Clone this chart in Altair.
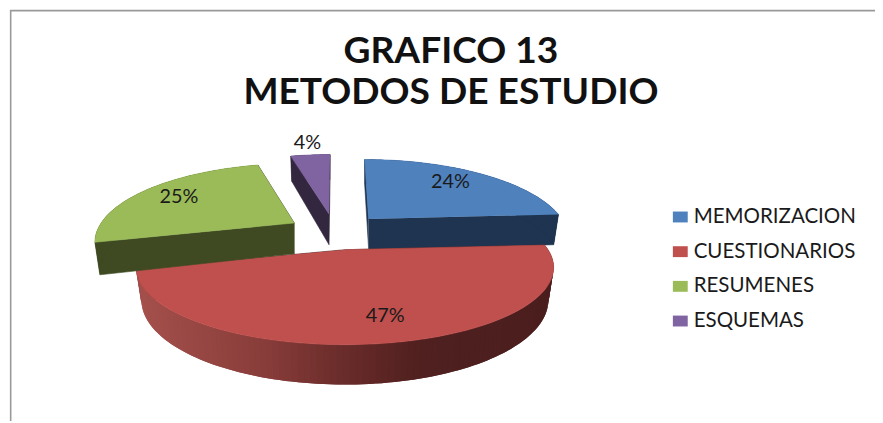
import math
import altair as alt
import pandas as pd

categories = ["MEMORIZACION", "CUESTIONARIOS", "RESUMENES", "ESQUEMAS"]
values = [24, 47, 25, 4]
labels = ["24%", "47%", "25%", "4%"]
top_colors = ["#4f81bd", "#c0504d", "#9bbb59", "#8064a2"]
side_colors = ["#1f3450", "#4b1e1e", "#3f4a23", "#33263f"]
title_lines = ["GRAFICO 13", "METODOS DE ESTUDIO"]

# layout of the exploded 3D pie (pixel space of the picture)
centers = [(372, 219), (348, 250), (297, 223), (332, 214)]
radius = [195, 205, 195, 195]
shear = [-0.067, 0, 0.05, 0.017]
H, Q, DEPTH, SHRINK = 73.8, 0.23, 31, 0.975
label_f = [0.72, 0.7, 0.75, 1.2]
label_nudge = [(-1, -3), (14, 6), (-2, 0), (0, -3)]
draw_order = [0, 1, 3, 2]
red_stops = [(138, (0xa5, 0x50, 0x4c)), (270, (0x87, 0x3c, 0x39)), (340, (0x6c, 0x2d, 0x2b)),
             (425, (0x4f, 0x20, 0x1f)), (560, (0x4b, 0x1e, 0x1e))]


def project(i, t, f=1.0, bottom=False):
    cx, cy = centers[i]
    w = 1 + Q * math.cos(t) * f
    s = SHRINK if bottom else 1.0
    up = H * f * math.cos(t) / w
    x = cx + s * radius[i] * f * math.sin(t) / w + shear[i] * up
    y = cy - up + (DEPTH / w if bottom else 0)
    return x, y


def red_shade(x):
    for (x0, c0), (x1, c1) in zip(red_stops, red_stops[1:]):
        if x <= x1:
            a = max(0, (x - x0) / (x1 - x0))
            return "#%02x%02x%02x" % tuple(round(p + (q - p) * a) for p, q in zip(c0, c1))
    return "#4b1e1e"


starts = []
acc = 0
for v in values:
    starts.append(acc)
    acc += v

rows = []
pid = 0


def add_poly(points, color, sw=0.6):
    global pid
    for k, (x, y) in enumerate(points):
        rows.append({"poly": f"p{pid:04d}", "k": k, "x": x, "y": y, "c": color, "sw": sw})
    pid += 1


for i in draw_order:
    t0 = starts[i] / 100 * 2 * math.pi
    t1 = (starts[i] + values[i]) / 100 * 2 * math.pi
    n = max(6, int(values[i] * 2.5))
    ts = [t0 + (t1 - t0) * j / n for j in range(n + 1)]
    side = side_colors[i]
    # radial faces
    for t in (t0, t1):
        add_poly([project(i, t, 0), project(i, t), project(i, t, 1, True), project(i, t, 0, True)], side)
    # outer wall strips, each overlapping the next one so no seams show
    for j in range(n):
        a, b = ts[j], ts[min(j + 2, n)]
        pts = [project(i, a), project(i, ts[j + 1]), project(i, b), project(i, b, 1, True),
               project(i, ts[j + 1], 1, True), project(i, a, 1, True)]
        col = red_shade((project(i, ts[j])[0] + project(i, ts[j + 1])[0]) / 2) if i == 1 else side
        add_poly(pts, col, 0)
    # top face
    add_poly([project(i, 0, 0)] + [project(i, t) for t in ts], top_colors[i])

faces = pd.DataFrame(rows)

xs = alt.Scale(domain=[8, 883], nice=False, zero=False)
ys = alt.Scale(domain=[423, 8], nice=False, zero=False)
X = alt.X("x:Q", scale=xs, axis=None)
Y = alt.Y("y:Q", scale=ys, axis=None)

pie = alt.Chart(faces).mark_line().encode(
    x=X, y=Y, detail="poly:N", order="k:Q",
    fill=alt.Fill("c:N", scale=None), stroke=alt.Stroke("c:N", scale=None),
    strokeWidth=alt.StrokeWidth("sw:Q", scale=None),
)

lab_rows = []
for i in range(4):
    mid = (starts[i] + values[i] / 2) / 100 * 2 * math.pi
    x, y = project(i, mid, label_f[i])
    lab_rows.append({"x": x + label_nudge[i][0], "y": y + label_nudge[i][1], "t": labels[i]})
pct = alt.Chart(pd.DataFrame(lab_rows)).mark_text(font="Lato", fontSize=20, color="#1a1a1a").encode(x=X, y=Y, text="t:N")

title = alt.Chart(pd.DataFrame({"x": [455, 455], "y": [50.5, 91.5], "t": title_lines})).mark_text(
    font="Lato", fontWeight="bold", fontSize=37.5, color="#111111").encode(x=X, y=Y, text="t:N")

leg_y = [217, 252, 287, 322]
leg = pd.DataFrame({
    "x": [679] * 4, "x2": [694] * 4,
    "y": [v - 5.5 for v in leg_y], "y2": [v + 5.5 for v in leg_y],
    "tx": [700] * 4, "ty": leg_y, "t": categories, "c": top_colors,
})
swatch = alt.Chart(leg).mark_rect().encode(x=X, x2="x2:Q", y=Y, y2="y2:Q", fill=alt.Fill("c:N", scale=None))
legtext = alt.Chart(leg).mark_text(align="left", font="Lato", fontSize=20.7, color="#1a1a1a").encode(
    x=alt.X("tx:Q", scale=xs, axis=None),
    y=alt.Y("ty:Q", scale=ys, axis=None), text="t:N")

frame_top = alt.Chart(pd.DataFrame({"x": [10], "x2": [883], "y": [8.7]})).mark_rule(color="#999999", strokeWidth=1.6).encode(x=X, x2="x2:Q", y=Y)
frame_left = alt.Chart(pd.DataFrame({"x": [10.7], "y": [8], "y2": [423]})).mark_rule(color="#999999", strokeWidth=1.6).encode(x=X, y=Y, y2="y2:Q")

chart = alt.layer(frame_top, frame_left, pie, pct, title, swatch, legtext).properties(
    width=875, height=415, padding=0, autosize=alt.AutoSizeParams(type="none"),
    background="white",
).configure_view(stroke=None)

chart.save("out.html", embed_options={"renderer": "svg", "actions": False})
